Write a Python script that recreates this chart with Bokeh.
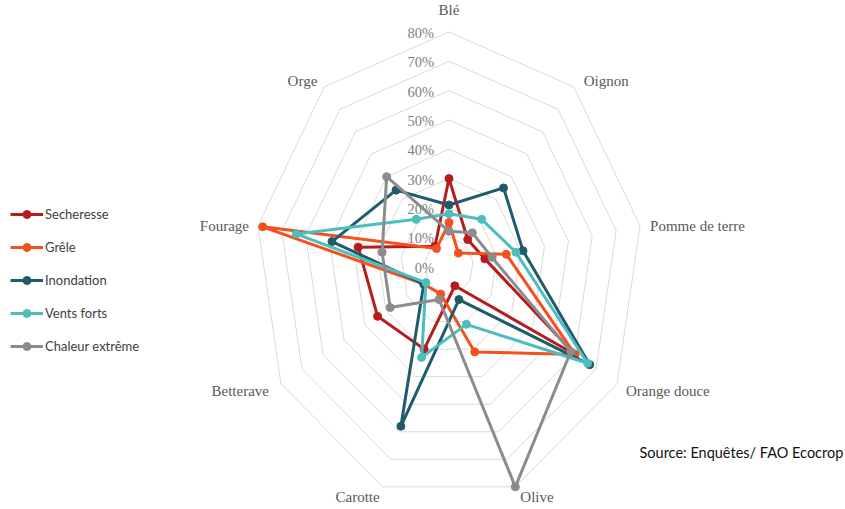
import math
from bokeh.plotting import figure
from bokeh.models import Range1d, Legend, LegendItem, Label, ColumnDataSource
from bokeh.core.properties import value
from bokeh.embed import file_html
from bokeh.resources import INLINE

# ---------------- data ----------------
categories = ["Blé", "Oignon", "Pomme de terre", "Orange douce", "Olive",
              "Carotte", "Betterave", "Fourage", "Orge"]
secheresse = [30, 12, 15, 60, 7, 30, 34, 38, 9]
grele = [15, 6, 24, 60, 31, 10, 12, 78, 8]
inondation = [21, 35, 31, 67, 12, 58, 12, 49, 34]
vents_forts = [18, 21, 28, 66, 21, 33, 11, 64, 21]
chaleur = [12, 15, 18, 58, 80, 12, 28, 28, 40]
series_names = ["Secheresse", "Grêle", "Inondation", "Vents forts", "Chaleur extrême"]
tick_values = [0, 10, 20, 30, 40, 50, 60, 70, 80]
tick_labels = ["0%", "10%", "20%", "30%", "40%", "50%", "60%", "70%", "80%"]
source_text = "Source: Enquêtes/ FAO Ecocrop"

# ---------------- style ----------------
colors = ["#B71C1C", "#F4511E", "#1F5B6B", "#4DBDBE", "#8C8C8C"]
rmax = 80
n = len(categories)
angles = [2 * math.pi * i / n for i in range(n)]

def to_xy(vals):
    xs = [v * math.sin(a) for v, a in zip(vals, angles)]
    ys = [v * math.cos(a) for v, a in zip(vals, angles)]
    return xs, ys

p = figure(width=845, height=509,
           x_range=Range1d(-184.95, 163.51), y_range=Range1d(-82.90, 90.75),
           x_axis_type=None, y_axis_type=None,
           output_backend="svg", toolbar_location=None, min_border=0)
p.grid.visible = False
p.outline_line_color = None
p.background_fill_color = "white"

# rings
for t in tick_values[1:]:
    xs, ys = to_xy([t] * n)
    p.line(xs + xs[:1], ys + ys[:1], line_color="#D9D9D9", line_width=1)

# tick labels
tsrc = ColumnDataSource(dict(x=[0] * len(tick_values), y=tick_values, t=tick_labels))
p.text(x="x", y="y", text="t", source=tsrc, x_offset=-15, y_offset=1,
       text_align="right", text_baseline="middle",
       text_font=value("Liberation Serif"), text_font_size="14.5px",
       text_color="#7F7F7F")

# category labels
lx, ly = to_xy([rmax] * n)
aligns = ["center", "left", "left", "left", "left", "right", "right", "right", "right"]
xoffs = [0, 10, 10, 9, 5, -3, -12, -9, -7]
yoffs = [-22, -6, 0, 7, 10, 10, 7, 0, -6]
for i, c in enumerate(categories):
    p.text(x=[lx[i]], y=[ly[i]], text=[c], x_offset=xoffs[i], y_offset=yoffs[i],
           text_align=aligns[i], text_baseline="middle",
           text_font=value("Liberation Serif"), text_font_size="15px",
           text_color="#595959")

# series
items = []
for name, vals, col in zip(series_names,
                           [secheresse, grele, inondation, vents_forts, chaleur],
                           colors):
    xs, ys = to_xy(vals)
    r1 = p.line(xs + xs[:1], ys + ys[:1], line_color=col, line_width=3,
                line_join="round")
    r2 = p.scatter(xs, ys, size=8, fill_color=col, line_color=col)
    items.append(LegendItem(label=name, renderers=[r1, r2]))

legend = Legend(items=items, location=(10, 153), orientation="vertical",
                glyph_width=33, glyph_height=20, spacing=13, padding=0, margin=0,
                label_standoff=2, border_line_color=None, background_fill_alpha=0,
                label_text_font="Lato", label_text_font_size="13px",
                label_text_color="#404040")
p.add_layout(legend)

p.add_layout(Label(x=639, y=57, x_units="screen", y_units="screen",
                   text=source_text, text_font="Lato", text_font_size="14.5px",
                   text_color="#111111", text_baseline="middle"))

open("out.html", "w").write(file_html(p, INLINE))
